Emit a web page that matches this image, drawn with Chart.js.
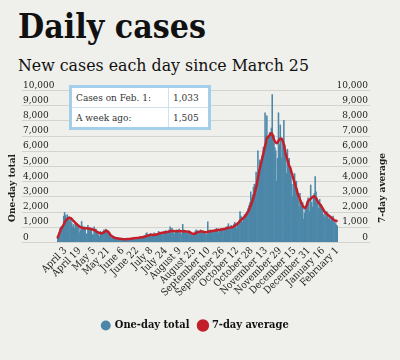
<!DOCTYPE html>
<html>
<head>
<meta charset="utf-8">
<script src="https://cdn.jsdelivr.net/npm/chart.js@4.4.1/dist/chart.umd.min.js"></script>
<style>
  html, body { margin: 0; padding: 0; background: #efefeb; }
  #wrap { position: relative; width: 400px; height: 360px; overflow: hidden; }
  .title { position: absolute; left: 18px; top: 10px; font: bold 33px/33px 'DejaVu Serif', serif; color: #111; white-space: nowrap; transform-origin: 0 0; }
  .sub { position: absolute; left: 18px; top: 57px; font: 17px/17px 'DejaVu Serif', serif; color: #111; white-space: nowrap; transform-origin: 0 0; }
  #c { position: absolute; left: 0; top: 78px; }
  table.box { position: absolute; left: 69px; top: 85px; width: 142px; height: 44px; border: 3px solid #a3cfea; border-collapse: collapse; background: #fff; font: 10px 'DejaVu Serif', serif; font-stretch: condensed; color: #333; }
  table.box td { border: 1px solid #cfe2ee; padding: 0 4px; height: 19px; }
</style>
</head>
<body>
<div id="wrap">
  <div class="title" id="title">Daily cases</div>
  <div class="sub" id="sub">New cases each day since March 25</div>
  <canvas id="c" width="400" height="282"></canvas>
  <table class="box">
    <tr><td style="width:88px">Cases on Feb. 1:</td><td>1,033</td></tr>
    <tr><td>A week ago:</td><td>1,505</td></tr>
  </table>
</div>
<script>
// ################ DATA #################
const startDate = new Date(2020, 2, 25); // March 25
const monthNames = ['January', 'February', 'March', 'April', 'May', 'June', 'July',
    'August', 'September', 'October', 'November', 'December'];
const tickLabels = ['April 3', 'April 19', 'May 5', 'May 21', 'June 6', 'June 22', 'July 8',
    'July 24', 'August 9', 'August 25', 'September 10', 'September 26', 'October 12',
    'October 28', 'November 13', 'November 29', 'December 15', 'December 31', 'January 16', 'February 1'];

// one-day totals, one line per month
const daily = [
    380, 450, 620, 900, 1000, 780, 1100, // Mar 25-31
    1700, 1950, 1750, 1500, 1800, 1450, 1650, 1350, 1600, 1250, 1000, 1150, 900, 1250, 1100, 1000, 1100, 950, 600, 800, 1350, 1050, 950, 1000, 850, 500, 550, 1100, 900, 950,
    900, 800, 500, 450, 1000, 800, 850, 650, 700, 450, 350, 700, 600, 550, 700, 800, 650, 850, 800, 700, 600, 450, 350, 250, 300, 400, 350, 300, 250, 200, 250,
    150, 200, 250, 180, 220, 200, 150, 120, 160, 250, 200, 180, 150, 120, 200, 230, 250, 200, 180, 150, 280, 300, 220, 250, 300, 350, 280, 320, 250, 380,
    400, 550, 600, 450, 350, 400, 550, 500, 480, 400, 600, 550, 450, 380, 550, 700, 650, 600, 500, 450, 650, 700, 550, 750, 600, 550, 650, 800, 1000, 750, 900,
    700, 600, 500, 650, 800, 750, 700, 850, 650, 550, 500, 1160, 800, 700, 650, 550, 600, 700, 750, 650, 500, 450, 400, 550, 600, 700, 800, 750, 650, 600, 650,
    800, 700, 750, 650, 600, 550, 500, 450, 1330, 700, 750, 800, 700, 650, 600, 750, 800, 850, 900, 700, 600, 800, 750, 900, 850, 800, 750, 900, 950, 1000,
    1000, 1200, 900, 850, 1100, 950, 1000, 1150, 1300, 1200, 900, 1100, 1250, 1400, 2000, 1700, 1600, 1300, 1500, 1800, 1650, 1900, 2000, 2200, 2400, 2600, 3300, 2900, 3100, 3600, 3800,
    3500, 4600, 3900, 6000, 4200, 5400, 4900, 5000, 5700, 6200, 6300, 8500, 7000, 8300, 6600, 6900, 7200, 7000, 7500, 9700, 6500, 7000, 6200, 6000, 4000, 5500, 8500, 6400, 7700, 5500,
    6800, 6200, 8000, 6400, 5800, 4500, 6100, 5200, 5500, 4800, 4300, 3800, 3000, 4300, 4500, 3600, 4000, 3500, 2800, 2300, 3200, 2700, 2500, 2600, 1500, 1900, 2200, 2400, 2700, 2900, 2800,
    2000, 3750, 2600, 2300, 3000, 3200, 4300, 3300, 2900, 2500, 2200, 2800, 2400, 2300, 2100, 1800, 1600, 1900, 1700, 2000, 1800, 1500, 1700, 1400, 1505, 1500, 1700, 1300, 1400, 1200, 1100,
    1033 // Feb 1
];

// 7-day average
const average = [
    240, 400, 550, 700, 850, 950, 1050,
    1150, 1280, 1380, 1460, 1520, 1570, 1600, 1590, 1560, 1500, 1440, 1380, 1320, 1260, 1200, 1150, 1100, 1050, 1000, 960, 930, 920, 910, 905, 900, 900, 900, 890, 880, 870,
    860, 850, 830, 810, 790, 760, 720, 680, 640, 610, 590, 580, 570, 570, 590, 640, 690, 720, 720, 700, 650, 580, 480, 420, 370, 330, 300, 280, 260, 250, 240,
    230, 220, 210, 200, 195, 190, 185, 180, 180, 185, 190, 195, 200, 205, 210, 220, 230, 240, 250, 255, 260, 265, 270, 280, 290, 300, 310, 320, 330, 345,
    360, 380, 400, 420, 440, 460, 470, 480, 470, 460, 460, 470, 480, 500, 520, 540, 560, 580, 590, 600, 610, 620, 630, 640, 650, 660, 670, 690, 710, 720, 730,
    730, 720, 710, 700, 700, 710, 720, 730, 720, 710, 700, 690, 700, 710, 700, 690, 680, 670, 660, 640, 610, 570, 540, 530, 540, 560, 590, 620, 650, 670, 680,
    690, 690, 680, 670, 660, 650, 640, 650, 670, 690, 700, 710, 700, 720, 740, 730, 750, 770, 760, 780, 800, 790, 810, 830, 820, 840, 860, 850, 880, 900,
    920, 930, 940, 950, 960, 970, 990, 1020, 1060, 1100, 1150, 1200, 1250, 1300, 1380, 1450, 1500, 1550, 1600, 1660, 1720, 1800, 1900, 2000, 2100, 2250, 2400, 2550, 2700, 2900, 3100,
    3350, 3600, 3900, 4200, 4500, 4800, 5050, 5300, 5550, 5800, 6050, 6300, 6550, 6800, 6900, 6950, 7000, 7100, 7150, 7100, 6900, 6750, 6600, 6550, 6500, 6550, 6650, 6750, 6800, 6800,
    6750, 6600, 6400, 6100, 5800, 5600, 5400, 5200, 5000, 4900, 4700, 4500, 4300, 4100, 3900, 3700, 3500, 3300, 3100, 2950, 2800, 2650, 2500, 2400, 2300, 2250, 2250, 2350, 2500, 2650, 2750,
    2800, 2850, 2900, 2950, 3000, 3000, 2950, 2850, 2750, 2650, 2550, 2500, 2450, 2350, 2250, 2150, 2050, 1950, 1900, 1850, 1800, 1750, 1700, 1650, 1600, 1550, 1500, 1450, 1420, 1400, 1380,
    1350
];

const labels = daily.map((v, i) => {
    const d = new Date(startDate);
    d.setDate(d.getDate() + i);
    return monthNames[d.getMonth()] + ' ' + d.getDate();
});

// ################ TITLES #################
function fitWidth(id, target) {
    const el = document.getElementById(id);
    const w = el.getBoundingClientRect().width;
    el.style.transform = 'scaleX(' + (target / w) + ')';
}
fitWidth('title', 188);
fitWidth('sub', 291);

// ################ CHART #################
const SERIF = "'DejaVu Serif Condensed', 'DejaVu Serif', serif";
const BLUE = '#4c87a8';
const RED = '#c21f2a';

const gridLines = {
    id: 'gridLines',
    beforeDraw(chart) {
        const y = chart.scales.y;
        const ctx = chart.ctx;
        ctx.save();
        ctx.strokeStyle = '#d4d4cf';
        ctx.lineWidth = 1;
        y.ticks.forEach(t => {
            const py = Math.round(y.getPixelForValue(t.value)) + 0.5;
            ctx.beginPath();
            ctx.moveTo(22, py);
            ctx.lineTo(370, py);
            ctx.stroke();
        });
        ctx.restore();
    }
};

const axisTitles = {
    id: 'axisTitles',
    afterDraw(chart) {
        const ctx = chart.ctx;
        const cy = chart.chartArea.top + 98;
        ctx.save();
        ctx.font = 'bold 10px ' + SERIF;
        ctx.fillStyle = '#222';
        ctx.textAlign = 'center';
        ctx.textBaseline = 'middle';
        [[12, 'One-day total'], [382, '7-day average']].forEach(([x, text]) => {
            ctx.save();
            ctx.translate(x, cy);
            ctx.rotate(-Math.PI / 2);
            ctx.fillText(text, 0, 0);
            ctx.restore();
        });
        ctx.restore();
    }
};

const yTicks = {
    stepSize: 1000,
    crossAlign: 'far',
    labelOffset: -5,
    color: '#222',
    font: { family: SERIF, size: 10 },
    callback: v => v.toLocaleString('en-US')
};

const ctx = document.getElementById('c');
const casesChart = new Chart(ctx, {
    data: {
        labels: labels,
        datasets: [{
            type: 'bar',
            label: 'One-day total',
            data: daily,
            backgroundColor: BLUE,
            borderWidth: 0,
            barPercentage: 1,
            categoryPercentage: 1,
            order: 2,
            yAxisID: 'y'
        }, {
            type: 'line',
            label: '7-day average',
            data: average,
            borderColor: RED,
            backgroundColor: RED,
            borderWidth: 2.5,
            pointRadius: 0,
            tension: 0.3,
            order: 1,
            yAxisID: 'y2'
        }]
    },
    options: {
        responsive: false,
        animation: false,
        layout: { padding: { left: 23, right: 32, top: 12, bottom: 19 } },
        scales: {
            x: {
                grid: { display: false, drawTicks: false },
                border: { display: false },
                ticks: {
                    autoSkip: false,
                    minRotation: 45,
                    maxRotation: 45,
                    padding: 3,
                    color: '#222',
                    font: { family: SERIF, size: 10 },
                    callback: function (v) {
                        const l = this.getLabelForValue(v);
                        return tickLabels.includes(l) ? l : '';
                    }
                },
                afterFit: s => { s.height = 68; }
            },
            y: {
                position: 'left',
                min: 0, max: 10000,
                grid: { display: false, drawTicks: false },
                border: { display: false },
                ticks: yTicks,
                afterFit: s => { s.width = 34; }
            },
            y2: {
                position: 'right',
                min: 0, max: 10000,
                grid: { display: false, drawTicks: false },
                border: { display: false },
                ticks: yTicks,
                afterFit: s => { s.width = 30; }
            }
        },
        plugins: {
            tooltip: { enabled: false },
            legend: {
                position: 'bottom',
                labels: {
                    usePointStyle: true,
                    pointStyle: 'circle',
                    boxWidth: 7,
                    boxHeight: 7,
                    padding: 10,
                    color: '#111',
                    font: { family: SERIF, size: 11, weight: 'bold' },
                    sort: (a, b) => a.datasetIndex - b.datasetIndex
                }
            }
        }
    },
    plugins: [gridLines, axisTitles]
});
</script>
</body>
</html>
